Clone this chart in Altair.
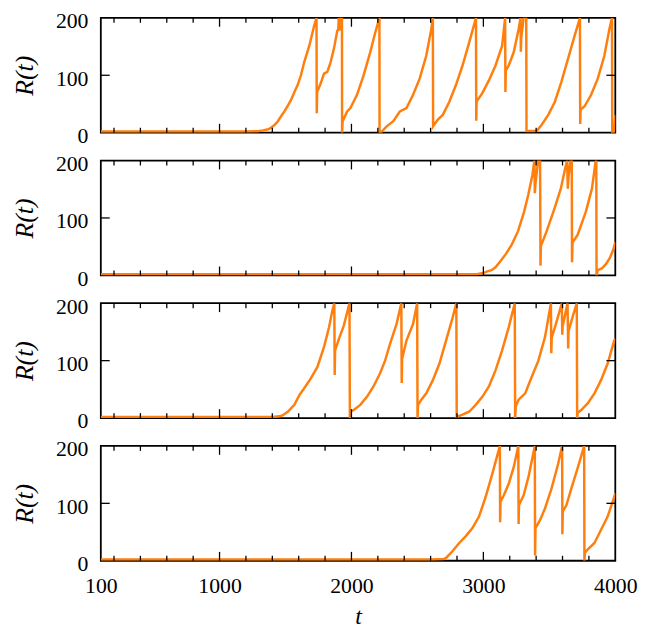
import altair as alt
import pandas as pd

# ---- data ----
t1 = [100, 1200, 1290, 1330, 1370, 1392, 1420, 1442, 1470, 1492, 1520, 1542, 1570, 1592, 1617, 1642, 1680, 1717, 1735,
      1737, 1740, 1767, 1792, 1817, 1842, 1867, 1892, 1900, 1904, 1906, 1914, 1918, 1928,
      1929, 1933, 1967, 1992, 2042, 2092, 2142, 2180, 2212,
      2213, 2230, 2267, 2317, 2367, 2417, 2467, 2517, 2567, 2605, 2617,
      2619, 2655, 2692, 2742, 2792, 2842, 2892, 2944,
      2946, 2949, 2992, 3042, 3092, 3142, 3165,
      3167, 3170, 3192, 3230, 3267, 3282,
      3284, 3287, 3305, 3325,
      3327, 3405, 3442, 3492, 3542, 3592, 3642, 3692, 3732,
      3734, 3737, 3767, 3817, 3867, 3917, 3955, 3975,
      3977, 3993, 4000]
r1 = [2, 2, 2.5, 4, 6, 9, 14, 20, 30, 37, 48, 57, 72, 83, 100, 123, 151, 186, 200,
      34, 71, 86, 103, 106, 123, 146, 177, 180, 200, 178, 182, 200, 200,
      0, 20, 37, 43, 66, 100, 140, 174, 200,
      0, 2, 11, 20, 37, 43, 66, 94, 134, 180, 200,
      11, 23, 31, 54, 83, 117, 157, 200,
      21, 54, 69, 91, 117, 151, 200,
      71, 108, 117, 140, 180, 200,
      141, 165, 200, 200,
      3, 3, 14, 31, 54, 89, 129, 169, 200,
      15, 40, 46, 66, 94, 134, 180, 200,
      0, 2, 31]

t2 = [100, 2950, 3000, 3030, 3061, 3092, 3123, 3170, 3216, 3263, 3309, 3340, 3371, 3387,
      3390, 3395, 3415, 3430,
      3433, 3436, 3480, 3540, 3587, 3620, 3635,
      3640, 3645, 3660, 3670,
      3672, 3676, 3715, 3777, 3823, 3850, 3856,
      3858, 3867, 3898, 3930, 3960, 3985, 4000]
r2 = [2, 2, 4, 7, 9, 14, 23, 37, 54, 77, 111, 140, 174, 200,
      143, 160, 200, 200,
      17, 51, 77, 117, 151, 186, 200,
      151, 170, 200, 200,
      23, 57, 71, 111, 151, 197, 200,
      0, 9, 12, 20, 31, 45, 58]

t3 = [100, 1400, 1455, 1480, 1517, 1567, 1605, 1642, 1692, 1742, 1792, 1830, 1855, 1870,
      1873, 1876, 1905, 1942, 1985,
      1988, 1991, 2017, 2067, 2117, 2167, 2217, 2255, 2292, 2342, 2378,
      2381, 2384, 2417, 2467, 2498,
      2501, 2505, 2530, 2567, 2617, 2667, 2717, 2767, 2795,
      2798, 2842, 2892, 2942, 2992, 3042, 3092, 3142, 3192, 3238,
      3241, 3245, 3267, 3317, 3367, 3417, 3467, 3512,
      3515, 3518, 3545, 3595,
      3598, 3601, 3638,
      3643, 3646, 3675, 3708,
      3711, 3715, 3742, 3792, 3842, 3892, 3942, 3992, 4000]
r3 = [2, 2, 3, 5, 11, 23, 40, 52, 69, 89, 124, 158, 187, 200,
      75, 118, 138, 161, 200,
      0, 11, 14, 23, 37, 55, 78, 100, 129, 164, 200,
      61, 103, 135, 164, 200,
      0, 23, 32, 43, 66, 95, 135, 175, 200,
      2, 6, 11, 23, 37, 55, 83, 118, 158, 200,
      0, 20, 32, 43, 72, 100, 141, 200,
      113, 140, 160, 200,
      145, 160, 200,
      121, 152, 175, 200,
      0, 9, 14, 26, 43, 66, 95, 135, 138]

t4 = [100, 2500, 2600, 2700, 2717, 2767, 2817, 2867, 2917, 2967, 3017, 3067, 3105, 3125,
      3127, 3130, 3155, 3192, 3230, 3265,
      3267, 3270, 3305, 3342, 3390,
      3392, 3395, 3430, 3467, 3517, 3567, 3597,
      3599, 3602, 3630, 3667, 3717, 3764,
      3766, 3770, 3792, 3842, 3892, 3942, 3992, 4000]
r4 = [2, 2, 2, 3, 5, 17, 31, 43, 57, 77, 111, 151, 183, 200,
      67, 103, 114, 134, 163, 200,
      64, 97, 114, 146, 200,
      9, 57, 71, 91, 126, 169, 200,
      46, 86, 97, 126, 163, 200,
      0, 14, 20, 31, 54, 77, 111, 118]

x_tick_labels = [100, 1000, 2000, 3000, 4000]
x_major_ticks = [1000, 2000, 3000]
x_minor_ticks = [200, 400, 600, 800, 1200, 1400, 1600, 1800, 2200, 2400, 2600, 2800,
                 3200, 3400, 3600, 3800]
y_tick_labels = [0, 100, 200]
y_inner_ticks = [100]

# ---- style ----
W, H = 521, 116.3
COLOR = "#ff7f0e"
FONT = "Liberation Serif"

xscale = alt.Scale(domain=[100, 4000], nice=False, zero=False)
yscale = alt.Scale(domain=[0, 200], nice=False, zero=True)

yaxis = alt.Axis(values=y_tick_labels, title="R(t)", grid=False, domain=False, ticks=False,
                 labelFont=FONT, labelFontSize=22, labelColor="black", labelPadding=13,
                 labelFlush=False, labelOffset=3,
                 titleFont=FONT, titleFontSize=26, titleFontStyle="italic",
                 titleFontWeight="normal", titleColor="black", titlePadding=18)


def panel(t, r, bottom):
    df = pd.DataFrame({"t": t, "R": r, "i": list(range(len(t)))})
    if bottom:
        xaxis = alt.Axis(values=x_tick_labels, format="d", title="t", grid=False, domain=False,
                         ticks=False, labelFont=FONT, labelFontSize=22, labelColor="black",
                         labelPadding=15, labelFlush=False,
                         titleFont=FONT, titleFontSize=24, titleFontStyle="italic",
                         titleFontWeight="normal", titleColor="black", titlePadding=9)
    else:
        xaxis = None
    xenc = alt.X("t:Q", scale=xscale, axis=xaxis)
    yenc = alt.Y("R:Q", scale=yscale, axis=yaxis)

    line = alt.Chart(df).mark_line(color=COLOR, strokeWidth=2.5, clip=True).encode(
        x=xenc, y=yenc, order="i:Q")

    minor = pd.DataFrame({"t": x_minor_ticks})
    major = pd.DataFrame({"t": x_major_ticks})
    ytk = pd.DataFrame({"R": y_inner_ticks})
    tick = dict(color="black", strokeWidth=1.3)
    layers = [line]
    for d, ln in ((minor, 5), (major, 9)):
        layers.append(alt.Chart(d).mark_rule(**tick).encode(
            x=xenc, y=alt.value(H), y2=alt.value(H - ln)))
        layers.append(alt.Chart(d).mark_rule(**tick).encode(
            x=xenc, y=alt.value(0), y2=alt.value(ln)))
    layers.append(alt.Chart(ytk).mark_rule(**tick).encode(
        y=yenc, x=alt.value(0), x2=alt.value(9)))
    layers.append(alt.Chart(ytk).mark_rule(**tick).encode(
        y=yenc, x=alt.value(W - 9), x2=alt.value(W)))
    return alt.layer(*layers).properties(width=W, height=H)


chart = alt.vconcat(
    panel(t1, r1, False),
    panel(t2, r2, False),
    panel(t3, r3, False),
    panel(t4, r4, True),
    spacing=3.5,
).properties(
    padding={"left": 3, "top": -3, "right": 0, "bottom": 0}
).configure(
    background="white"
).configure_view(
    stroke="black", strokeWidth=1.8
)

chart.save("out.html", embed_options={"renderer": "svg", "actions": False})
